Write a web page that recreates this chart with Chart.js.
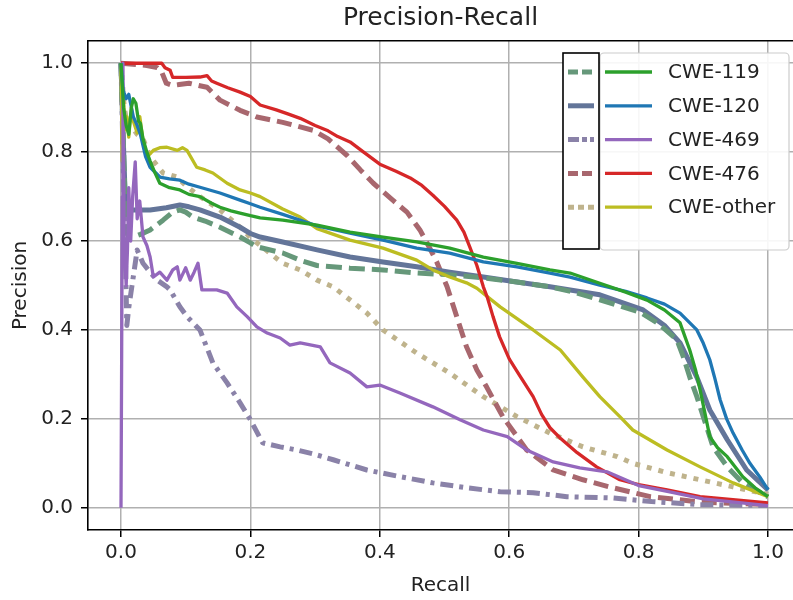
<!DOCTYPE html>
<html>
<head>
<meta charset="utf-8">
<script src="https://cdn.jsdelivr.net/npm/chart.js@4.4.1/dist/chart.umd.min.js"></script>
<style>
  html, body { margin: 0; padding: 0; background: #fff; }
  #wrap { width: 793px; height: 600px; }
</style>
</head>
<body>
<div id="wrap"><canvas id="prChart" width="793" height="600"></canvas></div>
<script>
// Categorias e ticks
const labels = ['CWE-119', 'CWE-120', 'CWE-469', 'CWE-476', 'CWE-other'];
const tickValues = [0, 0.2, 0.4, 0.6, 0.8, 1.0];

// Curvas sólidas: [recall, precision]
const cwe119 = [[0,1.0],[0.004,0.9],[0.008,0.86],[0.012,0.84],[0.016,0.9],[0.019,0.92],[0.023,0.91],[0.027,0.87],[0.03,0.865],[0.034,0.83],[0.04,0.8],[0.045,0.78],[0.052,0.755],[0.06,0.73],[0.075,0.72],[0.091,0.715],[0.105,0.705],[0.122,0.7],[0.14,0.685],[0.153,0.676],[0.17,0.668],[0.184,0.663],[0.2,0.657],[0.215,0.652],[0.25,0.647],[0.303,0.636],[0.354,0.62],[0.405,0.609],[0.457,0.598],[0.508,0.584],[0.56,0.564],[0.612,0.55],[0.663,0.535],[0.694,0.528],[0.74,0.505],[0.78,0.485],[0.813,0.467],[0.84,0.445],[0.864,0.416],[0.879,0.355],[0.888,0.31],[0.895,0.265],[0.91,0.16],[0.922,0.135],[0.937,0.115],[0.961,0.07],[0.98,0.045],[1.0,0.025]];
const cwe120 = [[0,1.0],[0.003,0.94],[0.008,0.92],[0.012,0.93],[0.019,0.88],[0.025,0.86],[0.03,0.84],[0.038,0.79],[0.045,0.766],[0.06,0.744],[0.075,0.74],[0.091,0.737],[0.105,0.728],[0.122,0.721],[0.153,0.708],[0.184,0.692],[0.2,0.684],[0.215,0.676],[0.25,0.66],[0.303,0.634],[0.354,0.618],[0.405,0.602],[0.457,0.584],[0.508,0.573],[0.56,0.553],[0.612,0.542],[0.663,0.528],[0.694,0.519],[0.74,0.501],[0.78,0.487],[0.813,0.472],[0.84,0.458],[0.864,0.438],[0.89,0.4],[0.9,0.37],[0.91,0.333],[0.918,0.29],[0.926,0.243],[0.936,0.2],[0.946,0.168],[0.96,0.13],[0.972,0.1],[0.987,0.07],[1.0,0.04]];
const cwe469 = [[0,0],[0.001,0.333],[0.002,0.7],[0.003,1.0],[0.005,0.6],[0.008,0.5],[0.01,0.58],[0.012,0.72],[0.015,0.6],[0.018,0.7],[0.022,0.778],[0.025,0.65],[0.029,0.69],[0.034,0.609],[0.04,0.59],[0.045,0.564],[0.05,0.519],[0.06,0.53],[0.071,0.512],[0.08,0.535],[0.087,0.542],[0.091,0.512],[0.1,0.54],[0.107,0.512],[0.113,0.53],[0.119,0.55],[0.125,0.49],[0.148,0.49],[0.164,0.483],[0.179,0.452],[0.195,0.43],[0.21,0.407],[0.226,0.393],[0.246,0.382],[0.261,0.366],[0.277,0.371],[0.308,0.362],[0.323,0.326],[0.354,0.303],[0.38,0.272],[0.4,0.276],[0.431,0.258],[0.482,0.227],[0.524,0.198],[0.56,0.175],[0.597,0.16],[0.627,0.13],[0.668,0.103],[0.709,0.09],[0.751,0.081],[0.8,0.05],[0.85,0.035],[0.9,0.02],[1.0,0.005]];
const cwe476 = [[0,1.0],[0.063,1.0],[0.068,0.99],[0.076,0.984],[0.08,0.968],[0.1,0.968],[0.122,0.969],[0.133,0.972],[0.14,0.96],[0.148,0.955],[0.165,0.945],[0.184,0.935],[0.2,0.925],[0.215,0.906],[0.24,0.895],[0.26,0.885],[0.277,0.876],[0.3,0.86],[0.32,0.848],[0.335,0.835],[0.354,0.823],[0.375,0.8],[0.4,0.773],[0.425,0.757],[0.447,0.742],[0.465,0.725],[0.482,0.703],[0.5,0.678],[0.519,0.647],[0.53,0.62],[0.539,0.587],[0.55,0.545],[0.56,0.497],[0.566,0.474],[0.575,0.43],[0.585,0.385],[0.6,0.335],[0.615,0.3],[0.637,0.25],[0.65,0.21],[0.663,0.18],[0.68,0.155],[0.705,0.124],[0.735,0.092],[0.771,0.063],[0.8,0.052],[0.844,0.04],[0.895,0.025],[0.95,0.018],[1.0,0.011]];
const cweOther = [[0,1.0],[0.002,0.78],[0.004,0.92],[0.006,0.85],[0.009,0.88],[0.012,0.834],[0.016,0.9],[0.019,0.87],[0.025,0.843],[0.029,0.88],[0.034,0.827],[0.04,0.789],[0.05,0.804],[0.06,0.81],[0.071,0.811],[0.087,0.804],[0.095,0.81],[0.102,0.804],[0.117,0.766],[0.13,0.76],[0.142,0.753],[0.164,0.73],[0.184,0.715],[0.2,0.708],[0.215,0.7],[0.25,0.672],[0.277,0.654],[0.303,0.628],[0.354,0.602],[0.405,0.584],[0.457,0.557],[0.482,0.535],[0.508,0.519],[0.534,0.506],[0.55,0.494],[0.586,0.452],[0.637,0.4],[0.679,0.355],[0.714,0.294],[0.74,0.25],[0.771,0.205],[0.791,0.175],[0.844,0.13],[0.895,0.092],[0.946,0.056],[1.0,0.025]];

// Curvas tracejadas: [recall, precision]
const cwe119b = [[0,1.0],[0.004,0.8],[0.008,0.62],[0.012,0.61],[0.019,0.609],[0.03,0.615],[0.045,0.625],[0.065,0.647],[0.08,0.665],[0.091,0.67],[0.1,0.665],[0.111,0.654],[0.13,0.645],[0.153,0.631],[0.184,0.609],[0.2,0.596],[0.21,0.587],[0.25,0.573],[0.28,0.555],[0.303,0.545],[0.354,0.539],[0.405,0.535],[0.457,0.528],[0.508,0.524],[0.56,0.517],[0.612,0.508],[0.663,0.497],[0.7,0.485],[0.74,0.468],[0.802,0.44],[0.83,0.415],[0.859,0.378],[0.869,0.34],[0.879,0.294],[0.89,0.25],[0.9,0.205],[0.915,0.137],[0.937,0.092],[0.961,0.056],[0.98,0.04],[1.0,0.025]];
const cwe120b = [[0,1.0],[0.003,0.85],[0.006,0.72],[0.01,0.68],[0.015,0.67],[0.025,0.67],[0.045,0.67],[0.07,0.675],[0.091,0.681],[0.105,0.677],[0.122,0.67],[0.153,0.654],[0.184,0.631],[0.2,0.617],[0.215,0.609],[0.25,0.598],[0.303,0.58],[0.354,0.564],[0.405,0.553],[0.457,0.542],[0.508,0.53],[0.56,0.519],[0.612,0.508],[0.663,0.497],[0.74,0.479],[0.807,0.445],[0.84,0.41],[0.864,0.371],[0.89,0.294],[0.91,0.22],[0.937,0.153],[0.967,0.085],[1.0,0.04]];
const cwe469b = [[0,1.0],[0.004,0.74],[0.007,0.55],[0.009,0.41],[0.012,0.45],[0.019,0.52],[0.025,0.58],[0.034,0.55],[0.045,0.53],[0.056,0.512],[0.071,0.497],[0.076,0.49],[0.091,0.452],[0.102,0.43],[0.122,0.4],[0.142,0.326],[0.164,0.281],[0.184,0.236],[0.2,0.198],[0.219,0.146],[0.246,0.137],[0.272,0.13],[0.3,0.12],[0.328,0.108],[0.38,0.085],[0.431,0.07],[0.482,0.056],[0.534,0.045],[0.586,0.036],[0.637,0.034],[0.689,0.025],[0.76,0.022],[0.82,0.014],[0.895,0.007],[1.0,0.005]];
const cwe476b = [[0,1.0],[0.025,0.997],[0.04,0.995],[0.056,0.99],[0.063,0.98],[0.07,0.955],[0.08,0.95],[0.09,0.952],[0.105,0.955],[0.12,0.95],[0.133,0.946],[0.153,0.917],[0.184,0.894],[0.2,0.885],[0.21,0.879],[0.25,0.867],[0.297,0.849],[0.32,0.83],[0.349,0.793],[0.37,0.76],[0.39,0.73],[0.42,0.692],[0.442,0.665],[0.462,0.625],[0.475,0.59],[0.488,0.553],[0.504,0.497],[0.514,0.452],[0.534,0.362],[0.55,0.31],[0.565,0.272],[0.59,0.205],[0.627,0.13],[0.668,0.085],[0.714,0.063],[0.76,0.045],[0.818,0.025],[0.895,0.013],[1.0,0.007]];
const cweOtherb = [[0,1.0],[0.005,0.9],[0.01,0.86],[0.02,0.85],[0.025,0.84],[0.034,0.83],[0.045,0.79],[0.065,0.753],[0.087,0.744],[0.1,0.725],[0.122,0.7],[0.153,0.67],[0.189,0.625],[0.2,0.607],[0.21,0.596],[0.25,0.55],[0.277,0.535],[0.303,0.512],[0.328,0.497],[0.38,0.438],[0.405,0.4],[0.457,0.348],[0.508,0.303],[0.56,0.25],[0.612,0.205],[0.663,0.168],[0.714,0.137],[0.767,0.115],[0.791,0.1],[0.844,0.079],[0.895,0.063],[0.946,0.047],[1.0,0.03]];

const solidSeries = [cwe119, cwe120, cwe469, cwe476, cweOther];
const dashedSeries = [cwe119b, cwe120b, cwe469b, cwe476b, cweOtherb];

const solidColors = ['#2ca02c', '#1f77b4', '#9467bd', '#d62728', '#bcbd22'];
const dashedColors = ['#66987a', '#637599', '#8a82a8', '#a8676e', '#bfb38c'];
const dashedStyles = [[16, 7], [], [13, 6, 4, 6], [15, 7], [5, 7]];
const legendDashes = [[10, 4], [], [11, 3, 5, 3], [10, 4], [6, 4]];

const font = 'DejaVu Sans';
const textColor = '#222';

const toXY = arr => arr.map(p => ({ x: p[0], y: p[1] }));

const datasets = [];
solidSeries.forEach((s, i) => datasets.push({
    label: labels[i],
    data: toXY(s),
    borderColor: solidColors[i],
    borderWidth: 3.3,
    borderJoinStyle: 'round',
    pointRadius: 0,
    tension: 0,
    fill: false
}));
dashedSeries.forEach((s, i) => datasets.push({
    label: labels[i] + ' ',
    data: toXY(s),
    borderColor: dashedColors[i],
    borderWidth: 5,
    borderDash: dashedStyles[i],
    borderCapStyle: 'butt',
    borderJoinStyle: 'round',
    pointRadius: 0,
    tension: 0,
    fill: false
}));

// Legenda dupla (caixa preta com tracejadas + caixa cinza com sólidas)
const doubleLegend = {
    id: 'doubleLegend',
    afterDraw(chart) {
        const ctx = chart.ctx;
        const rowY = 72, rowGap = 33.8;
        ctx.save();
        // caixa cinza
        ctx.beginPath();
        ctx.roundRect(600, 53, 189, 197, 4);
        ctx.fillStyle = 'rgba(255,255,255,0.9)';
        ctx.fill();
        ctx.strokeStyle = '#cccccc';
        ctx.lineWidth = 1.2;
        ctx.stroke();
        // caixa preta
        ctx.fillStyle = '#fff';
        ctx.fillRect(563, 53, 36, 196);
        ctx.strokeStyle = '#000';
        ctx.lineWidth = 1.6;
        ctx.strokeRect(563, 53, 36, 196);

        chart.data.datasets.forEach((ds, i) => {
            const k = i % 5;
            const y = rowY + k * rowGap;
            ctx.beginPath();
            ctx.strokeStyle = ds.borderColor;
            ctx.lineWidth = ds.borderWidth;
            ctx.lineCap = 'butt';
            if (i < 5) {
                ctx.setLineDash([]);
                ctx.moveTo(605, y);
                ctx.lineTo(652, y);
            } else {
                ctx.setLineDash(legendDashes[k]);
                ctx.moveTo(568, y);
                ctx.lineTo(594, y);
            }
            ctx.stroke();
            if (i < 5) {
                ctx.fillStyle = textColor;
                ctx.font = '20px "' + font + '"';
                ctx.textBaseline = 'middle';
                ctx.textAlign = 'left';
                ctx.fillText(labels[k], 668, y + 1);
            }
        });
        ctx.restore();
    }
};

const setTicks = scale => { scale.ticks = tickValues.map(v => ({ value: v })); };

const ctx = document.getElementById('prChart').getContext('2d');
const prChart = new Chart(ctx, {
    type: 'line',
    data: { datasets: datasets },
    options: {
        responsive: false,
        animation: false,
        layout: { padding: 0 },
        plugins: {
            legend: { display: false },
            tooltip: { enabled: false },
            title: { display: false }
        },
        scales: {
            x: {
                type: 'linear',
                position: 'bottom',
                min: -0.051,
                max: 1.0386,
                afterBuildTicks: setTicks,
                afterFit: s => { s.height = 70; },
                grid: { color: '#b0b0b0', lineWidth: 1.5, tickColor: '#000', tickLength: 7, tickWidth: 1.5 },
                border: { color: '#000', width: 1.6 },
                ticks: { color: textColor, font: { family: font, size: 20 }, padding: 4, maxRotation: 0, callback: v => v.toFixed(1) },
                title: { display: true, text: 'Recall', color: textColor, font: { family: font, size: 20 }, padding: { top: 0, bottom: 2 } }
            },
            x2: {
                type: 'linear',
                position: 'top',
                min: -0.051,
                max: 1.0386,
                afterFit: s => { s.height = 41; },
                grid: { drawOnChartArea: false, drawTicks: false },
                border: { color: '#000', width: 1.6 },
                ticks: { display: false },
                title: { display: true, text: 'Precision-Recall', color: textColor, font: { family: font, size: 25 }, padding: { top: 3, bottom: 0 } }
            },
            y: {
                type: 'linear',
                min: -0.05,
                max: 1.05,
                afterBuildTicks: setTicks,
                afterFit: s => { s.width = 88; },
                grid: { color: '#b0b0b0', lineWidth: 1.5, tickColor: '#000', tickLength: 7, tickWidth: 1.5 },
                border: { color: '#000', width: 1.6 },
                ticks: { color: textColor, font: { family: font, size: 20 }, padding: 8, callback: v => v.toFixed(1) },
                title: { display: true, text: 'Precision', color: textColor, font: { family: font, size: 20 }, padding: { top: 9, bottom: 0 } }
            }
        }
    },
    plugins: [doubleLegend]
});
</script>
</body>
</html>
